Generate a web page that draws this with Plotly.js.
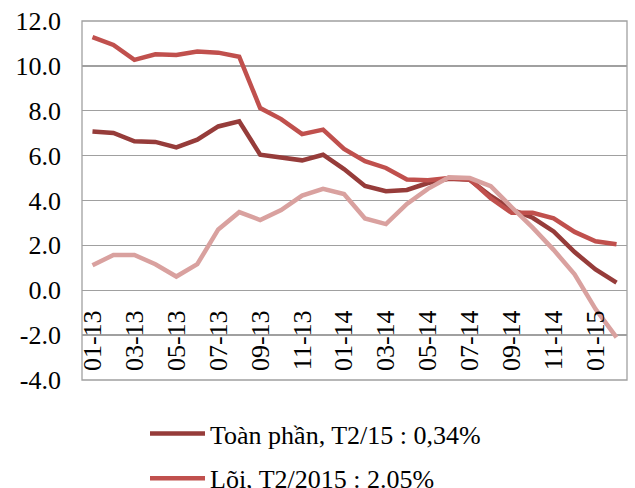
<!DOCTYPE html>
<html>
<head>
<meta charset="utf-8">
<script src="https://cdn.plot.ly/plotly-3.0.1.min.js"></script>
<style>html,body{margin:0;padding:0;background:#fff;}#chart{width:635px;height:488px;}
#chart svg text{font-family:"Liberation Serif","Times New Roman",serif !important;}</style>
</head>
<body>
<div id="chart"></div>
<script>
var months = ['01-13','02-13','03-13','04-13','05-13','06-13','07-13','08-13','09-13','10-13','11-13','12-13',
              '01-14','02-14','03-14','04-14','05-14','06-14','07-14','08-14','09-14','10-14','11-14','12-14',
              '01-15','02-15'];
var headline = [7.08, 7.01, 6.64, 6.61, 6.37, 6.71, 7.30, 7.53, 6.04, 5.93, 5.79, 6.04,
                5.40, 4.65, 4.41, 4.47, 4.78, 4.97, 4.92, 4.20, 3.60, 3.23, 2.62, 1.70, 0.93, 0.34];
var core = [11.28, 10.93, 10.27, 10.52, 10.49, 10.64, 10.59, 10.41, 8.12, 7.63, 6.96, 7.16,
            6.30, 5.75, 5.45, 4.94, 4.90, 5.00, 4.94, 4.10, 3.45, 3.45, 3.20, 2.60, 2.18, 2.05];
var food = [1.11, 1.57, 1.57, 1.16, 0.61, 1.16, 2.71, 3.48, 3.13, 3.57, 4.22, 4.52,
            4.29, 3.20, 2.95, 3.85, 4.52, 5.03, 5.00, 4.64, 3.70, 2.79, 1.80, 0.71, -0.84, -2.10];
var seriesNames = ['Toàn phần, T2/15 : 0,34%', 'Lõi, T2/2015 : 2.05%', 'Lương thực, thực phẩm'];
var yTicks = [-4, -2, 0, 2, 4, 6, 8, 10, 12];
var xTickLabels = months.filter(function(m, i){ return i % 2 === 0; });

var FONT = 'Liberation Serif';
var traces = [
  {x: months, y: headline, name: seriesNames[0], type: 'scatter', mode: 'lines',
   legendgroup: 'a', line: {color: '#963C3A', width: 4.5}},
  {x: months, y: core, name: seriesNames[1], type: 'scatter', mode: 'lines',
   legendgroup: 'b', line: {color: '#C0504D', width: 4.5}},
  {x: months, y: food, name: seriesNames[2], type: 'scatter', mode: 'lines',
   legendgroup: 'c', showlegend: false, line: {color: '#D9A19F', width: 4.5}}
];
var layout = {
  width: 635, height: 488,
  margin: {l: 82, r: 8, t: 21, b: 108, pad: 0, autoexpand: false},
  paper_bgcolor: '#fff', plot_bgcolor: '#fff',
  font: {family: FONT, size: 26, color: '#000'},
  showlegend: true,
  xaxis: {
    type: 'category', range: [-0.5, 25.5], anchor: 'free', position: 0.25,
    tickmode: 'array', tickvals: xTickLabels, ticktext: xTickLabels,
    tickangle: -90, ticks: '', showgrid: false, showline: false, zeroline: false,
    ticklabelstandoff: 14, automargin: false,
    tickfont: {family: FONT, size: 26, color: '#000'}
  },
  yaxis: {
    range: [-4, 12], tickmode: 'array', tickvals: yTicks,
    ticktext: yTicks.map(function(v){ return v.toFixed(1); }),
    showgrid: true, gridcolor: '#a0a0a0', gridwidth: 1.3, zeroline: false,
    showline: false, ticks: '', ticklabelstandoff: 20, automargin: false,
    tickfont: {family: FONT, size: 26, color: '#000'}
  },
  shapes: [{type: 'rect', xref: 'paper', yref: 'paper', x0: 0, x1: 1, y0: 0, y1: 1,
            line: {color: '#a0a0a0', width: 1.3}, layer: 'above'}],
  legend: {
    xref: 'container', yref: 'container', x: 145/635, y: 1 - 410/488,
    xanchor: 'left', yanchor: 'top', orientation: 'v',
    bgcolor: 'rgba(0,0,0,0)', borderwidth: 0, tracegroupgap: 8, itemwidth: 55,
    font: {family: FONT, size: 26, color: '#000'}
  }
};
Plotly.newPlot('chart', traces, layout, {displayModeBar: false, staticPlot: true});
</script>
</body>
</html>
